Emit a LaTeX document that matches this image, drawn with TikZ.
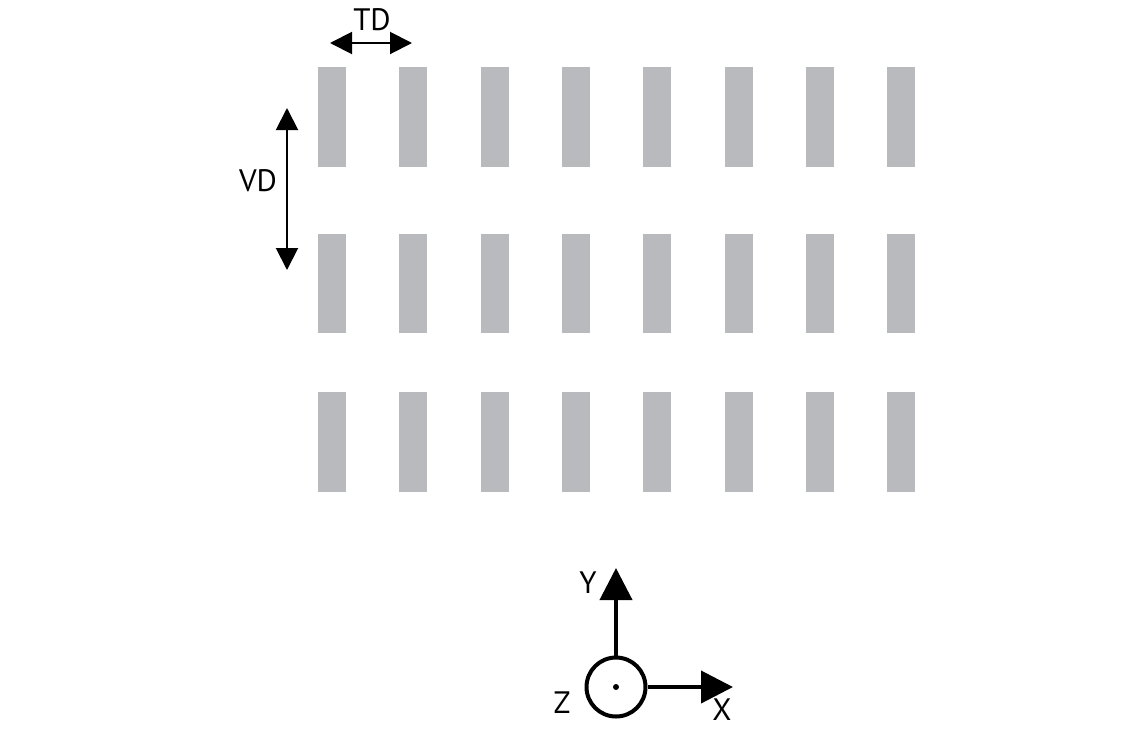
\documentclass[tikz,border=0pt]{standalone}
\usepackage{fontspec}
\setmainfont{PT Sans}
\usetikzlibrary{arrows.meta}
\definecolor{bargray}{RGB}{185,186,190}
\tikzset{
  bar/.style={fill=bargray},
  dimarrow/.style={{Triangle[length=22pt,width=22pt]}-{Triangle[length=22pt,width=22pt]},line width=2pt},
  axis/.style={-{Triangle[length=32pt,width=32pt]},line width=4pt},
  lbl/.style={font=\fontsize{31}{36}\selectfont,inner sep=0pt}
}
\begin{document}
\begin{tikzpicture}[x=1pt,y=-1pt]
    \useasboundingbox (0,0) rectangle (1143,729);

    % Rows of bars
    \foreach \top/\bot in {67/167,234/333,392/492}
      \foreach \i in {0,...,7}
        \fill[bar] (318+81.3*\i,\top) rectangle (346+81.3*\i,\bot);

    % Transverse distance
    \coordinate (tdleft)  at (330,43);
    \coordinate (tdright) at (412,43);
    \draw[dimarrow] (tdleft) -- (tdright);
    \node[lbl] (td) at (372,20) {TD};

    % Vertical distance
    \coordinate (vdtop)    at (287,108);
    \coordinate (vdbottom) at (287,270);
    \draw[dimarrow] (vdtop) -- (vdbottom);
    \node[lbl] (vd) at (258,181) {VD};

    % Coordinate system
    \node[circle,draw,line width=4pt,minimum size=59pt,inner sep=0pt] (origin) at (616,687) {};
    \fill (origin.center) circle (3);
    \coordinate (ytip) at (616,568);
    \coordinate (xtip) at (733,687);
    \draw[axis] (origin.north) -- (ytip);
    \draw[axis] (origin.east) -- (xtip);
    \node[lbl] (ylabel) at (588,583) {Y};
    \node[lbl] (zlabel) at (562,703) {Z};
    \node[lbl] (xlabel) at (722,710) {X};
\end{tikzpicture}
\end{document}
